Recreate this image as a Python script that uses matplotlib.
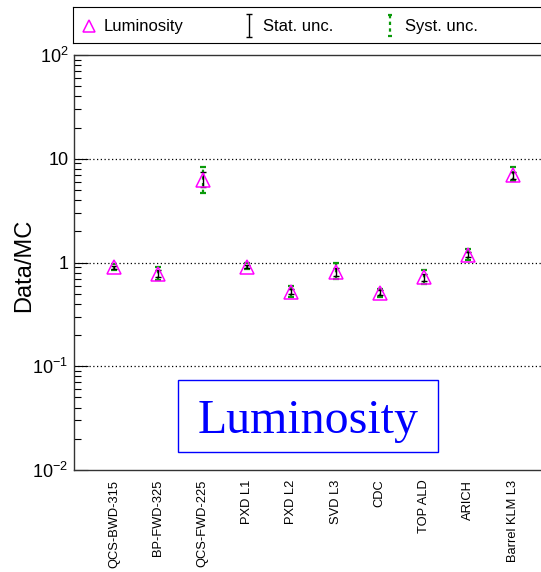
import numpy as np
import matplotlib
matplotlib.use("Agg")
import matplotlib.pyplot as plt
from matplotlib.patches import Rectangle

plt.rcParams['font.family'] = ['Liberation Sans', 'DejaVu Sans']
plt.rcParams['mathtext.fontset'] = 'custom'
plt.rcParams['mathtext.rm'] = 'Liberation Sans'
plt.rcParams['mathtext.it'] = 'Liberation Sans'

# data
detectors = ["QCS-BWD-315", "BP-FWD-325", "QCS-FWD-225", "PXD L1", "PXD L2",
             "SVD L3", "CDC", "TOP ALD", "ARICH", "Barrel KLM L3"]
ratio = [0.90, 0.78, 6.2, 0.91, 0.52, 0.81, 0.51, 0.72, 1.19, 6.9]
stat_lo = [0.87, 0.72, 5.3, 0.88, 0.50, 0.74, 0.49, 0.67, 1.12, 6.4]
stat_hi = [0.93, 0.85, 7.4, 0.95, 0.55, 0.89, 0.54, 0.78, 1.27, 7.5]
syst_lo = [0.85, 0.68, 4.7, 0.87, 0.47, 0.69, 0.47, 0.62, 1.06, 6.1]
syst_hi = [0.96, 0.91, 8.3, 1.00, 0.59, 1.00, 0.56, 0.84, 1.36, 8.3]
ytick_vals = [1e-2, 1e-1, 1, 10, 100]
ytick_labels = ["10$^{-2}$", "10$^{-1}$", "1", "10", "10$^{2}$"]

W, H = 541, 572
fig = plt.figure(figsize=(W / 100, H / 100), dpi=100)

ax_w = (W - 74) + 6  # pixels, right spine hidden past the edge
ax = fig.add_axes([74 / W, 1 - 470 / H, ax_w / W, (470 - 55) / H])
x = np.arange(len(detectors))
ratio = np.array(ratio)

sy = ax.errorbar(x, ratio, yerr=[ratio - np.array(syst_lo), np.array(syst_hi) - ratio],
                 fmt='none', ecolor='#0a9a0a', elinewidth=1.6, capsize=2, capthick=1.6,
                 zorder=2)
sy.lines[2][0].set_linestyle((0, (1.5, 1.5)))
ax.errorbar(x, ratio, yerr=[ratio - np.array(stat_lo), np.array(stat_hi) - ratio],
            fmt='none', ecolor='black', elinewidth=1, capsize=2, capthick=1, zorder=3)
ax.plot(x, ratio, linestyle='none', marker='^', ms=10, mfc='none', mec='magenta',
        mew=1.1, zorder=4)

ax.set_yscale('log')
ax.set_ylim(1e-2, 1e2)
ax.set_xlim(-0.903, -0.903 + ax_w / 44.3)
ax.set_yticks(ytick_vals)
ax.set_yticklabels(ytick_labels, fontsize=13)
ax.yaxis.set_minor_locator(matplotlib.ticker.LogLocator(base=10, subs=np.arange(2, 10)))
ax.yaxis.set_minor_formatter(matplotlib.ticker.NullFormatter())
ax.tick_params(axis='y', which='major', direction='in', length=10, width=0.8, pad=4)
ax.tick_params(axis='y', which='minor', direction='in', length=5, width=0.8)
ax.set_xticks(x)
ax.set_xticklabels(detectors, rotation=90, fontsize=9.3, va='top')
ax.tick_params(axis='x', which='both', length=0, pad=7)
for v in [0.1, 1, 10]:
    ax.axhline(v, color='black', linestyle=(0, (1, 2)), linewidth=0.9, zorder=1)
ax.spines['right'].set_visible(False)
for s in ['left', 'top', 'bottom']:
    ax.spines[s].set_linewidth(1.0)
    ax.spines[s].set_color('#333333')
ax.set_ylabel("Data/MC", fontsize=17)
ax.yaxis.set_label_coords(-39 / ax_w, (470 - 265) / 415)

# label box
fig.patches.append(Rectangle((178 / W, 1 - 452 / H), 260 / W, 72 / H,
                             transform=fig.transFigure, fc='white', ec='blue', lw=1.0))
fig.text(308 / W, 1 - 433 / H, "Luminosity", family='Liberation Serif',
         fontsize=34.5, color='blue', ha='center', va='baseline')

# legend box on top
lax = fig.add_axes([73 / W, 1 - 43 / H, (W - 73 + 6) / W, 36 / H])
lax.set_xlim(0, W - 73 + 6)
lax.set_ylim(36, 0)
lax.set_xticks([])
lax.set_yticks([])
lax.spines['right'].set_visible(False)
lax.plot([16], [19], marker='^', ms=9, mfc='none', mec='magenta', mew=1.1, linestyle='none')
lax.text(31, 19.5, "Luminosity", fontsize=12, va='center')
lax.errorbar([176], [18], yerr=[[11.5], [11.5]], fmt='none', ecolor='black', elinewidth=1,
             capsize=2.5, capthick=1)
lax.text(190, 19.5, "Stat. unc.", fontsize=12, va='center')
sy2 = lax.errorbar([317], [18], yerr=[[10.5], [10.5]], fmt='none', ecolor='#0a9a0a',
                   elinewidth=1.6, capsize=1.5, capthick=1.6)
sy2.lines[2][0].set_linestyle((0, (1.5, 1.5)))
lax.text(332, 19.5, "Syst. unc.", fontsize=12, va='center')

fig.savefig("out.png", dpi=100)
